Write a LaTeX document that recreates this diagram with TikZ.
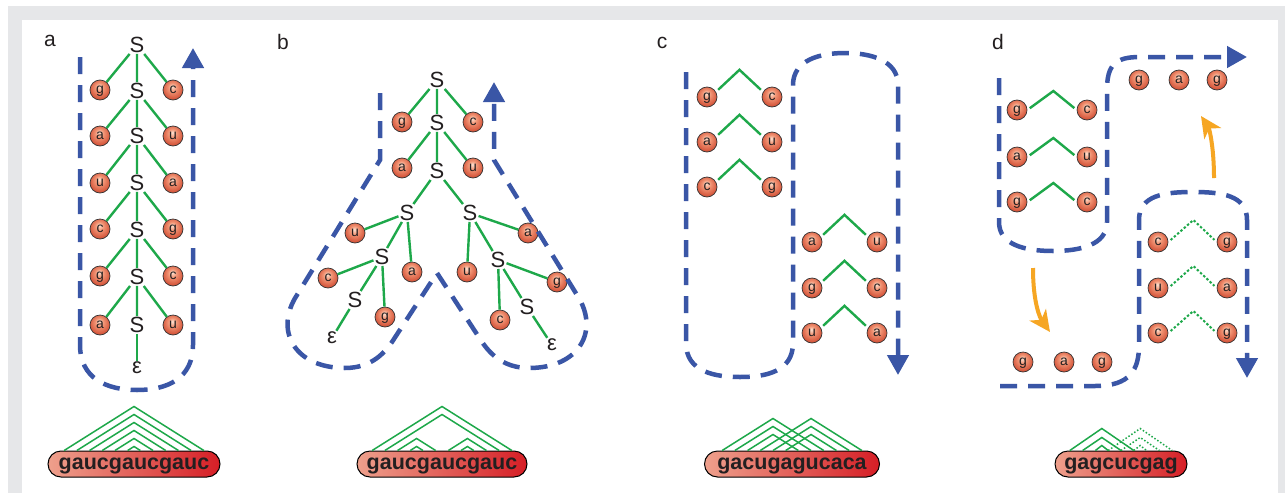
\documentclass[tikz,border=0pt]{standalone}
\usepackage{fontspec}
\setmainfont{Liberation Sans}
\usepackage{xcolor}
\usepackage{tikz}
\usetikzlibrary{calc}
\usetikzlibrary{arrows.meta}
\usetikzlibrary{shapes}
\tikzset{>=latex}
\definecolor{treegreen}{RGB}{30,168,74}
\definecolor{flowblue}{RGB}{58,86,166}
\definecolor{moveorange}{RGB}{246,166,35}
\definecolor{beadhi}{RGB}{253,228,212}
\definecolor{beadmid}{RGB}{242,150,118}
\definecolor{beadedge}{RGB}{205,70,45}
\definecolor{pilllight}{RGB}{238,160,140}
\definecolor{pillred}{RGB}{214,30,38}
\definecolor{framegray}{RGB}{230,231,233}
\definecolor{inkgray}{RGB}{35,31,32}
\pgfdeclareradialshading{beadball}{\pgfpoint{-2bp}{9bp}}{color(0bp)=(beadhi); color(10bp)=(beadmid); color(30bp)=(beadedge); color(50bp)=(beadedge)}
\tikzstyle{panel} = [draw=none, inner sep=0pt, text=inkgray, font=\fontsize{21}{21}\selectfont]
\tikzstyle{sym} = [draw=none, inner sep=1pt, text=inkgray, font=\fontsize{22}{22}\selectfont]
\tikzstyle{bead} = [circle, draw=black!80, line width=0.7pt, shading=beadball, minimum size=20pt, inner sep=0pt, text=inkgray, text height=7.3pt, text depth=0pt, font=\fontsize{14}{14}\selectfont]
\tikzstyle{strand} = [rectangle, rounded corners=13pt, draw=black, line width=1pt, left color=pilllight, right color=pillred, minimum height=26pt, inner sep=0pt, text=inkgray, text height=11.2pt, text depth=0pt, font=\bfseries\fontsize{21.5}{21.5}\selectfont]
\tikzstyle{tree} = [-, draw=treegreen, line width=2.4pt]
\tikzstyle{pair} = [-, draw=treegreen, line width=2.4pt, shorten <=3pt, shorten >=3pt]
\tikzstyle{pairdot} = [pair, dotted, line width=2pt]
\tikzstyle{bond} = [-, draw=treegreen, line width=1.5pt]
\tikzstyle{flow} = [draw=flowblue, line width=4.5pt, dash pattern=on 17pt off 11pt, -{Triangle[length=20pt,width=21pt]}]
\tikzstyle{move} = [draw=moveorange, line width=4pt, -{Stealth[length=21pt,width=20pt,inset=6pt]}]

\begin{document}
\begin{tikzpicture}[x=1pt, y=-1pt]
\useasboundingbox (0,0) rectangle (1285,493);
\fill [framegray] (8,6) rectangle (1285,493);
\fill [white] (22,20) rectangle (1278,493);

% a: hairpin, left to right
\node [panel] (la) at (50,41) {a};
\node [sym] (aS1) at (137,45) {S};
\node [bead] (aL1) at (100,90) {g};
\node [bead] (aR1) at (173,90) {c};
\node [sym] (aS2) at (137,91) {S};
\node [bead] (aL2) at (100,136) {a};
\node [bead] (aR2) at (173,136) {u};
\node [sym] (aS3) at (137,136) {S};
\node [bead] (aL3) at (100,183) {u};
\node [bead] (aR3) at (173,183) {a};
\node [sym] (aS4) at (137,183) {S};
\node [bead] (aL4) at (100,229) {c};
\node [bead] (aR4) at (173,229) {g};
\node [sym] (aS5) at (137,230) {S};
\node [bead] (aL5) at (100,276) {g};
\node [bead] (aR5) at (173,276) {c};
\node [sym] (aS6) at (137,277) {S};
\node [bead] (aL6) at (100,325) {a};
\node [bead] (aR6) at (173,325) {u};
\node [sym] (aS7) at (137,325) {S};
\node [sym] (aE) at (137,368) {ε};
\draw [tree] (aS1) -- (aL1) (aS1) -- (aR1) (aS1) -- (aS2);
\draw [tree] (aS2) -- (aL2) (aS2) -- (aR2) (aS2) -- (aS3);
\draw [tree] (aS3) -- (aL3) (aS3) -- (aR3) (aS3) -- (aS4);
\draw [tree] (aS4) -- (aL4) (aS4) -- (aR4) (aS4) -- (aS5);
\draw [tree] (aS5) -- (aL5) (aS5) -- (aR5) (aS5) -- (aS6);
\draw [tree] (aS6) -- (aL6) (aS6) -- (aR6) (aS6) -- (aS7);
\draw [tree] (aS7) -- (aE);
\draw [flow] (80,57) -- (80,345) .. controls (80,378) and (106,390) .. (137,390) .. controls (168,390) and (193,378) .. (193,345) -- (193,48);

% b: branching tree
\node [panel] (lb) at (283,42) {b};
\node [sym] (bS1) at (437,80) {S};
\node [bead] (bL1) at (402,122) {g};
\node [bead] (bR1) at (473,122) {c};
\node [sym] (bS2) at (437,123) {S};
\node [bead] (bL2) at (402,168) {a};
\node [bead] (bR2) at (473,168) {u};
\node [sym] (bS3) at (437,171) {S};
\node [sym] (bS4) at (407,213) {S};
\node [sym] (bS5) at (470,213) {S};
\node [bead] (bL3) at (355,233) {u};
\node [sym] (bS6) at (382,257) {S};
\node [bead] (bR3) at (412,272) {a};
\node [bead] (bL4) at (328,278) {c};
\node [sym] (bS7) at (355,300) {S};
\node [bead] (bR4) at (385,317) {g};
\node [sym] (bE1) at (332,338) {ε};
\node [bead] (bR5) at (528,233) {a};
\node [sym] (bS8) at (498,260) {S};
\node [bead] (bL5) at (467,272) {u};
\node [bead] (bR6) at (557,282) {g};
\node [sym] (bS9) at (527,307) {S};
\node [bead] (bL6) at (500,320) {c};
\node [sym] (bE2) at (552,345) {ε};
\draw [tree] (bS1) -- (bL1) (bS1) -- (bR1) (bS1) -- (bS2);
\draw [tree] (bS2) -- (bL2) (bS2) -- (bR2) (bS2) -- (bS3);
\draw [tree] (bS3) -- (bS4) (bS3) -- (bS5);
\draw [tree] (bS4) -- (bL3) (bS4) -- (bS6) (bS4) -- (bR3);
\draw [tree] (bS6) -- (bL4) (bS6) -- (bS7) (bS6) -- (bR4);
\draw [tree] (bS7) -- (bE1);
\draw [tree] (bS5) -- (bL5) (bS5) -- (bS8) (bS5) -- (bR5);
\draw [tree] (bS8) -- (bL6) (bS8) -- (bS9) (bS8) -- (bR6);
\draw [tree] (bS9) -- (bE2);
\draw [flow] (380,93) -- (380,160) -- (297,295) .. controls (274,330) and (294,368) .. (345,368) .. controls (372,368) and (385,352) .. (392,342) -- (437,273) -- (482,342) .. controls (489,352) and (502,368) .. (529,368) .. controls (580,368) and (600,330) .. (577,295) -- (494,160) -- (494,82);

% c: pseudoknot
\node [panel] (lc) at (662,43) {c};
\node [bead] (cL1) at (707,97) {g};
\node [bead] (cR1) at (772,97) {c};
\node [bead] (cL2) at (707,142) {a};
\node [bead] (cR2) at (772,142) {u};
\node [bead] (cL3) at (707,187) {c};
\node [bead] (cR3) at (772,187) {g};
\node [bead] (cL4) at (812,242) {a};
\node [bead] (cR4) at (877,242) {u};
\node [bead] (cL5) at (812,288) {g};
\node [bead] (cR5) at (877,288) {c};
\node [bead] (cL6) at (812,333) {u};
\node [bead] (cR6) at (877,333) {a};
\draw [pair] (cL1.30) -- ++(23.5,-22) -- (cR1.150);
\draw [pair] (cL2.30) -- ++(23.5,-22) -- (cR2.150);
\draw [pair] (cL3.30) -- ++(23.5,-22) -- (cR3.150);
\draw [pair] (cL4.30) -- ++(23.5,-22) -- (cR4.150);
\draw [pair] (cL5.30) -- ++(23.5,-22) -- (cR5.150);
\draw [pair] (cL6.30) -- ++(23.5,-22) -- (cR6.150);
\draw [flow] (686,72) -- (686,343) .. controls (686,372) and (715,377) .. (740,377) .. controls (765,377) and (793,372) .. (793,343) -- (793,85) .. controls (793,60) and (820,53) .. (845,53) .. controls (870,53) and (898,60) .. (898,85) -- (898,375);

% d: two hairpins, one read backwards
\node [panel] (ld) at (998,42) {d};
\node [bead] (dL1) at (1017,110) {g};
\node [bead] (dR1) at (1087,110) {c};
\node [bead] (dL2) at (1017,157) {a};
\node [bead] (dR2) at (1087,157) {u};
\node [bead] (dL3) at (1017,202) {g};
\node [bead] (dR3) at (1087,202) {c};
\node [bead] (dT1) at (1139,80) {g};
\node [bead] (dT2) at (1179,80) {a};
\node [bead] (dT3) at (1217,80) {g};
\node [bead] (dB1) at (1023,362) {g};
\node [bead] (dB2) at (1064,362) {a};
\node [bead] (dB3) at (1102,362) {g};
\node [bead] (dL4) at (1158,242) {c};
\node [bead] (dR4) at (1227,242) {g};
\node [bead] (dL5) at (1158,288) {u};
\node [bead] (dR5) at (1227,288) {a};
\node [bead] (dL6) at (1158,333) {c};
\node [bead] (dR6) at (1227,333) {g};
\draw [pair] (dL1.east) -- ++(26,-19) -- (dR1.west);
\draw [pair] (dL2.east) -- ++(26,-19) -- (dR2.west);
\draw [pair] (dL3.east) -- ++(26,-19) -- (dR3.west);
\draw [pairdot] (dL4.east) -- ++(25,-22) -- (dR4.west);
\draw [pairdot] (dL5.east) -- ++(25,-22) -- (dR5.west);
\draw [pairdot] (dL6.east) -- ++(25,-22) -- (dR6.west);
\draw [flow] (999,78) -- (999,222) .. controls (999,245) and (1025,251) .. (1053,251) .. controls (1080,251) and (1107,245) .. (1107,222) -- (1107,90) .. controls (1107,65) and (1115,57) .. (1140,57) -- (1247,57);
\draw [flow] (1000,386) -- (1095,386) .. controls (1130,386) and (1139,370) .. (1139,345) -- (1139,220) .. controls (1139,195) and (1165,192) .. (1193,192) .. controls (1221,192) and (1247,195) .. (1247,220) -- (1247,378);
\coordinate (m1) at (1033,268);
\coordinate (m2) at (1050,332);
\coordinate (m3) at (1214,178);
\coordinate (m4) at (1201,116);
\draw [move] (m1) .. controls +(0,35) and +(-10,-14) .. (m2);
\draw [move] (m3) .. controls +(0,-32) and +(8,12) .. (m4);

% strands with their base pairs
\node [strand, minimum width=172pt] (sa) at (134,464) {gaucgaucgauc};
\node [strand, minimum width=170pt] (sb) at (442,464) {gaucgaucgauc};
\node [strand, minimum width=175pt] (sc) at (792,464) {gacugagucaca};
\node [strand, minimum width=132pt] (sd) at (1121,464) {gagcucgag};
\foreach \i in {1,...,12} \coordinate (a\i) at ($(sa.north)+({12.7*(\i-6.5)},0)$);
\foreach \i in {1,...,12} \coordinate (b\i) at ($(sb.north)+({12.7*(\i-6.5)},0)$);
\foreach \i in {1,...,12} \coordinate (c\i) at ($(sc.north)+({12.7*(\i-6.5)},0)$);
\foreach \i in {1,...,9} \coordinate (d\i) at ($(sd.north)+({12.8*(\i-5)},0)$);
\draw [bond] (a1) -- ($(a1)!.5!(a12)+(0,-44)$) -- (a12);
\draw [bond] (a2) -- ($(a2)!.5!(a11)+(0,-36)$) -- (a11);
\draw [bond] (a3) -- ($(a3)!.5!(a10)+(0,-28)$) -- (a10);
\draw [bond] (a4) -- ($(a4)!.5!(a9)+(0,-20)$) -- (a9);
\draw [bond] (a5) -- ($(a5)!.5!(a8)+(0,-12)$) -- (a8);
\draw [bond] (a6) -- ($(a6)!.5!(a7)+(0,-4)$) -- (a7);
\draw [bond] (b1) -- ($(b1)!.5!(b12)+(0,-44)$) -- (b12);
\draw [bond] (b2) -- ($(b2)!.5!(b11)+(0,-36)$) -- (b11);
\draw [bond] (b3) -- ($(b3)!.5!(b6)+(0,-12)$) -- (b6);
\draw [bond] (b4) -- ($(b4)!.5!(b5)+(0,-4)$) -- (b5);
\draw [bond] (b7) -- ($(b7)!.5!(b10)+(0,-12)$) -- (b10);
\draw [bond] (b8) -- ($(b8)!.5!(b9)+(0,-4)$) -- (b9);
\draw [bond] (c1) -- ($(c1)!.5!(c9)+(0,-32)$) -- (c9);
\draw [bond] (c2) -- ($(c2)!.5!(c8)+(0,-24)$) -- (c8);
\draw [bond] (c3) -- ($(c3)!.5!(c7)+(0,-16)$) -- (c7);
\draw [bond] (c4) -- ($(c4)!.5!(c12)+(0,-32)$) -- (c12);
\draw [bond] (c5) -- ($(c5)!.5!(c11)+(0,-24)$) -- (c11);
\draw [bond] (c6) -- ($(c6)!.5!(c10)+(0,-16)$) -- (c10);
\draw [bond] (d1) -- ($(d1)!.5!(d6)+(0,-22)$) -- (d6);
\draw [bond] (d2) -- ($(d2)!.5!(d5)+(0,-13)$) -- (d5);
\draw [bond] (d3) -- ($(d3)!.5!(d4)+(0,-5)$) -- (d4);
\draw [bond, dotted] (d4) -- ($(d4)!.5!(d9)+(0,-22)$) -- (d9);
\draw [bond, dotted] (d5) -- ($(d5)!.5!(d8)+(0,-13)$) -- (d8);
\draw [bond, dotted] (d6) -- ($(d6)!.5!(d7)+(0,-5)$) -- (d7);
\end{tikzpicture}
\end{document}
